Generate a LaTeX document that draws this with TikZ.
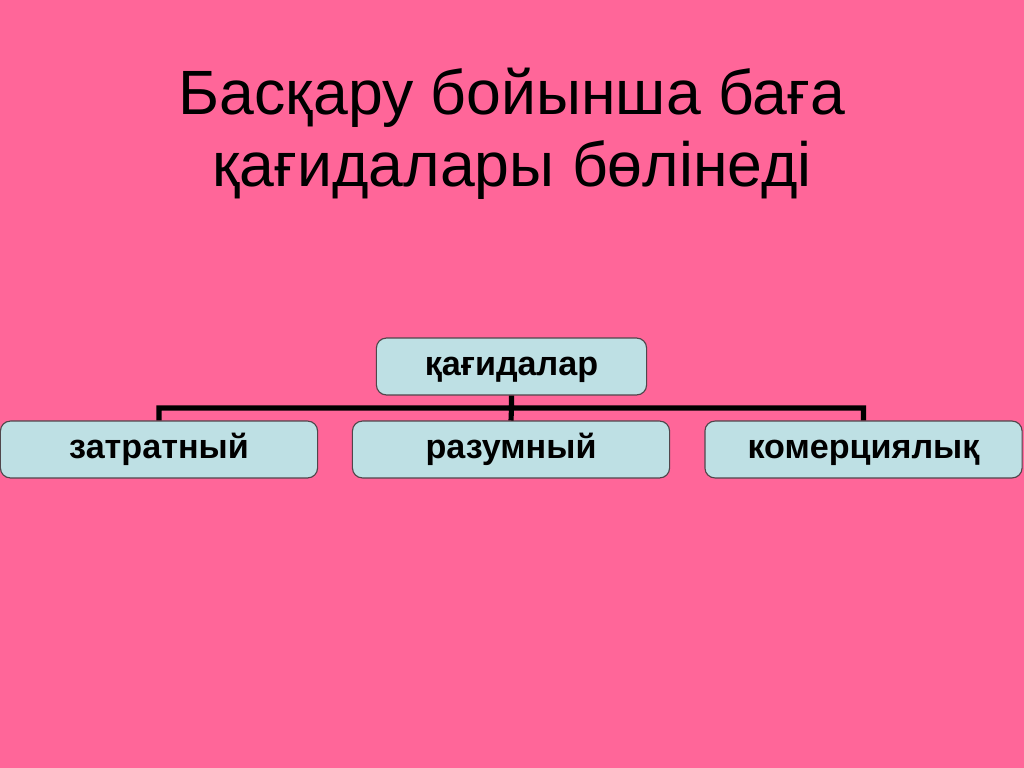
\documentclass[tikz,border=0pt]{standalone}
\usepackage{fontspec}
\setmainfont{Liberation Sans}
\usetikzlibrary{positioning}
\definecolor{slidepink}{RGB}{255,102,153}
\definecolor{boxblue}{RGB}{190,224,228}
\definecolor{boxline}{RGB}{80,70,75}
\tikzstyle{every node}=[font=\bfseries\fontsize{24}{28}\selectfont]
\tikzstyle{rule}=[draw=boxline,fill=boxblue,rounded corners=7pt,line width=0.8pt,minimum height=40pt,inner sep=0pt,text height=12pt,text depth=0pt]
\tikzstyle{link}=[draw=black,line width=3.6pt]

\begin{document}
\begin{tikzpicture}[x=0.703125pt,y=-0.703125pt]
  \fill[slidepink] (0,0) rectangle (1024,768);
  \useasboundingbox (0,0) rectangle (1024,768);
  \node[align=center,font=\fontsize{44}{51}\selectfont] (title) at (512,134)
    {Басқару бойынша баға\\қағидалары бөлінеді};

  \node[rule,minimum width=190pt] (kag) at (511.5,366.5) {қағидалар};
  \node[rule,minimum width=223pt] (zat) at (159,449.5) {затратный};
  \node[rule,minimum width=223pt] (raz) at (511,449.5) {разумный};
  \node[rule,minimum width=223pt] (kom) at (863.5,449.5) {комерциялық};

  \coordinate (bus) at (511.5,408);
  \path[link] (kag.south) -- (bus) -| (zat.north)
  	(bus) -| (kom.north)
	(bus) -- (raz.north);
\end{tikzpicture}
\end{document}
